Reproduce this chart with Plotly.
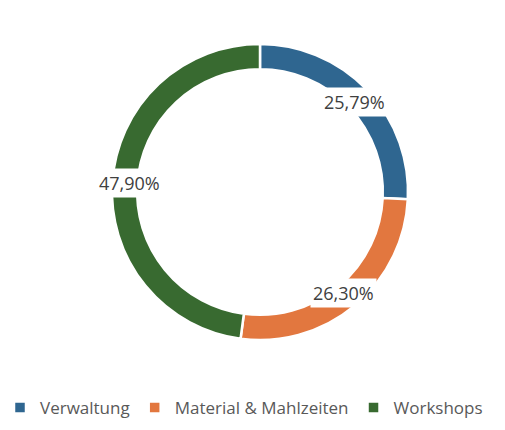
import math
import plotly.graph_objects as go

categories = ["Verwaltung", "Material & Mahlzeiten", "Workshops"]
values = [25.79, 26.30, 47.90]
label_texts = ["25,79%", "26,30%", "47,90%"]
colors = ["#2F6690", "#E2773F", "#386A30"]

W, H = 505, 430
cx, cy, R = 260, 192, 148

fig = go.Figure(go.Pie(
    labels=categories, values=values, sort=False, direction="clockwise",
    rotation=0, hole=0.83, textinfo="none", hoverinfo="label+percent",
    marker=dict(colors=colors, line=dict(color="white", width=2.5)),
    domain=dict(x=[(cx - R) / W, (cx + R) / W], y=[1 - (cy + R) / H, 1 - (cy - R) / H]),
))

total = sum(values)
cum = 0
annotations = []
for v, t in zip(values, label_texts):
    mid = (cum + v / 2) / total * 2 * math.pi
    cum += v
    r = 131
    x = cx + r * math.sin(mid)
    y = cy - r * math.cos(mid)
    annotations.append(dict(
        x=x / W, y=1 - y / H, xref="paper", yref="paper", text=t, showarrow=False,
        font=dict(family="Open Sans, Lato, sans-serif", size=18, color="#404040"),
        bgcolor="white", borderpad=2, xanchor="center", yanchor="middle",
    ))

fig.update_layout(
    width=W, height=H, margin=dict(l=0, r=0, t=0, b=0),
    paper_bgcolor="white", plot_bgcolor="white",
    annotations=annotations,
    showlegend=True,
    legend=dict(orientation="h", x=0.48, xanchor="center", y=1 - 408 / H, yanchor="middle",
                font=dict(family="Open Sans, Lato, sans-serif", size=17, color="#595959"),
                itemwidth=30, tracegroupgap=0),
)

fig.write_html("out.html")
